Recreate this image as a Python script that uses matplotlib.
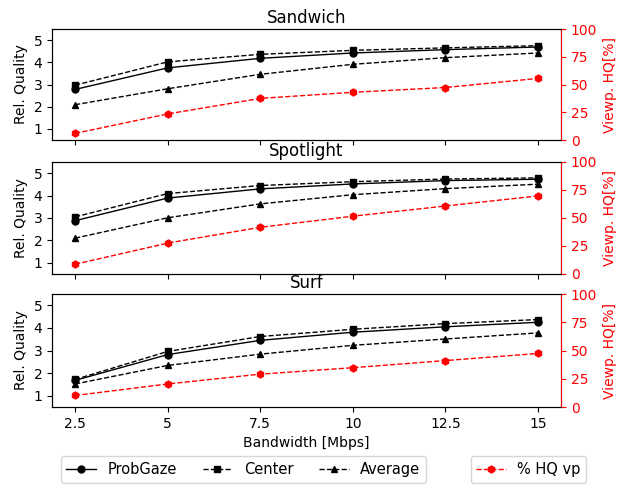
import numpy as np
import matplotlib
matplotlib.use('Agg')
import matplotlib.pyplot as plt

bandwidth = [2.5, 5, 7.5, 10, 12.5, 15]
titles = ['Sandwich', 'Spotlight', 'Surf']

probgaze = [
    [2.78, 3.75, 4.18, 4.42, 4.57, 4.69],
    [2.88, 3.89, 4.30, 4.52, 4.67, 4.73],
    [1.68, 2.82, 3.45, 3.81, 4.05, 4.25],
]
center = [
    [2.97, 4.02, 4.36, 4.54, 4.65, 4.75],
    [3.05, 4.09, 4.45, 4.62, 4.74, 4.79],
    [1.72, 2.96, 3.62, 3.94, 4.19, 4.37],
]
average = [
    [2.09, 2.81, 3.46, 3.91, 4.21, 4.42],
    [2.10, 3.01, 3.63, 4.04, 4.31, 4.51],
    [1.52, 2.34, 2.84, 3.23, 3.51, 3.78],
]
hq_vp = [
    [6.0, 23.5, 37.5, 43.0, 47.3, 55.5],
    [8.7, 27.6, 41.7, 51.6, 60.7, 69.7],
    [10.2, 20.4, 29.1, 34.8, 41.1, 47.4],
]

fig = plt.figure(figsize=(6.34, 4.96), dpi=100)
boxes = [
    [0.082, 0.7177, 0.803, 0.2238],
    [0.082, 0.4476, 0.803, 0.2258],
    [0.082, 0.1794, 0.803, 0.2278],
]

for i in range(3):
    ax = fig.add_axes(boxes[i])
    l1, = ax.plot(bandwidth, probgaze[i], 'k-', marker='o', markersize=5, linewidth=1, label='ProbGaze')
    l2, = ax.plot(bandwidth, center[i], 'k--', marker='s', markersize=5, linewidth=1, label='Center')
    l3, = ax.plot(bandwidth, average[i], 'k--', marker='^', markersize=5, linewidth=1, label='Average')
    ax.set_ylim(0.5, 5.5)
    ax.set_yticks([1, 2, 3, 4, 5])
    ax.set_ylabel('Rel. Quality')
    ax.set_title(titles[i], fontsize=12, pad=4)
    ax.set_xticks(bandwidth)
    if i < 2:
        ax.set_xticklabels([])
    else:
        ax.set_xticklabels(['2.5', '5', '7.5', '10', '12.5', '15'])
        ax.set_xlabel('Bandwidth [Mbps]')

    ax2 = ax.twinx()
    l4, = ax2.plot(bandwidth, hq_vp[i], 'r--', marker='h', markersize=5, linewidth=1, label='% HQ vp')
    ax2.set_ylim(0, 100)
    ax2.set_yticks([0, 25, 50, 75, 100])
    ax2.set_ylabel('Viewp. HQ[%]', color='r')
    ax2.tick_params(axis='y', colors='r')
    ax2.spines['right'].set_color('r')

fig.legend([l1, l2, l3], ['ProbGaze', 'Center', 'Average'], ncol=3, fontsize=10.5,
           loc='center', bbox_to_anchor=(0.384, 0.0534), columnspacing=1.8)
fig.legend([l4], ['% HQ vp'], loc='center', fontsize=10.5, bbox_to_anchor=(0.8336, 0.0534))

fig.savefig('out.png', dpi=100)
